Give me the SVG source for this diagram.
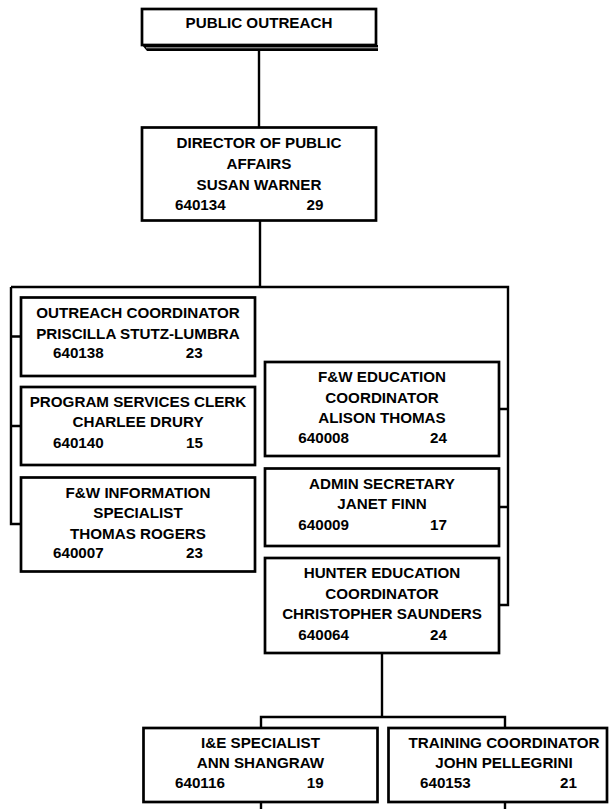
<svg xmlns="http://www.w3.org/2000/svg" width="609" height="809" viewBox="0 0 609 809">
<style>
.box{fill:#fff;stroke:#000;stroke-width:2.7}
.ln{fill:none;stroke:#000;stroke-width:2.4}
text{font-family:"Liberation Sans",Arial,sans-serif;font-weight:bold;font-size:15.2px;fill:#000}
.c{text-anchor:middle}
</style>
<rect width="609" height="809" fill="#fff"/>
<g id="connectors">
<path class="ln" d="M259 50V128"/>
<path class="ln" d="M260 221V287"/>
<path class="ln" d="M11 287H508V605H499"/>
<path class="ln" d="M11 287V524H21"/>
<path class="ln" d="M11 336.5H21M11 426H21"/>
<path class="ln" d="M499 409H508M499 507H508"/>
<path class="ln" d="M382 653V717"/>
<path class="ln" d="M261 728V717H505V728"/>
<path class="ln" d="M261 802V809M505 802V809"/>
</g>
<g id="public-outreach">
<polygon points="142,45 378,45 378,51 147,51" fill="#000"/>
<line x1="146" y1="47.8" x2="378" y2="47.8" stroke="#fff" stroke-width="0.7"/>
<rect class="box" x="142" y="9" width="234" height="36"/>
<text class="c" x="259" y="28">PUBLIC OUTREACH</text>
</g>
<g id="director">
<rect class="box" x="142" y="127.5" width="234" height="93"/>
<text class="c" x="259" y="148">DIRECTOR OF PUBLIC</text>
<text class="c" x="259" y="169">AFFAIRS</text>
<text class="c" x="259" y="189.5">SUSAN WARNER</text>
<text x="175" y="210">640134</text>
<text x="306.5" y="210">29</text>
</g>
<g id="outreach-coordinator">
<rect class="box" x="21" y="297.5" width="234" height="78.5"/>
<text class="c" x="138" y="317.7">OUTREACH COORDINATOR</text>
<text class="c" x="138" y="339">PRISCILLA STUTZ-LUMBRA</text>
<text x="53" y="358">640138</text>
<text x="185.7" y="358">23</text>
</g>
<g id="program-services-clerk">
<rect class="box" x="21" y="387" width="234" height="78"/>
<text class="c" x="138" y="407.3">PROGRAM SERVICES CLERK</text>
<text class="c" x="138" y="427">CHARLEE DRURY</text>
<text x="53" y="448.3">640140</text>
<text x="186" y="448.3">15</text>
</g>
<g id="fw-information-specialist">
<rect class="box" x="21" y="477.5" width="234" height="94"/>
<text class="c" x="138" y="497.7">F&amp;W INFORMATION</text>
<text class="c" x="138" y="517.5">SPECIALIST</text>
<text class="c" x="138" y="539">THOMAS ROGERS</text>
<text x="53" y="558.3">640007</text>
<text x="186" y="558.3">23</text>
</g>
<g id="fw-education-coordinator">
<rect class="box" x="265" y="362" width="234" height="94"/>
<text class="c" x="382" y="381.7">F&amp;W EDUCATION</text>
<text class="c" x="382" y="403.3">COORDINATOR</text>
<text class="c" x="382" y="423.3">ALISON THOMAS</text>
<text x="298.3" y="443.3">640008</text>
<text x="430" y="443.3">24</text>
</g>
<g id="admin-secretary">
<rect class="box" x="265" y="468.5" width="234" height="77.5"/>
<text class="c" x="382" y="489.3">ADMIN SECRETARY</text>
<text class="c" x="382" y="509.3">JANET FINN</text>
<text x="298.3" y="530">640009</text>
<text x="430" y="530">17</text>
</g>
<g id="hunter-education-coordinator">
<rect class="box" x="265" y="558" width="234" height="95"/>
<text class="c" x="382" y="578.3">HUNTER EDUCATION</text>
<text class="c" x="382" y="599.3">COORDINATOR</text>
<text class="c" x="382" y="619.3">CHRISTOPHER SAUNDERS</text>
<text x="298.3" y="640">640064</text>
<text x="430" y="640">24</text>
</g>
<g id="ie-specialist">
<rect class="box" x="143.5" y="728" width="234" height="74"/>
<text class="c" x="260.5" y="748.3">I&amp;E SPECIALIST</text>
<text class="c" x="260.5" y="768.3">ANN SHANGRAW</text>
<text x="175" y="788.3">640116</text>
<text x="306.7" y="788.3">19</text>
</g>
<g id="training-coordinator">
<rect class="box" x="388.5" y="728" width="218.5" height="74"/>
<text class="c" x="504" y="748.3">TRAINING COORDINATOR</text>
<text class="c" x="504" y="768.3">JOHN PELLEGRINI</text>
<text x="420" y="788.3">640153</text>
<text x="560" y="788.3">21</text>
</g>
</svg>
